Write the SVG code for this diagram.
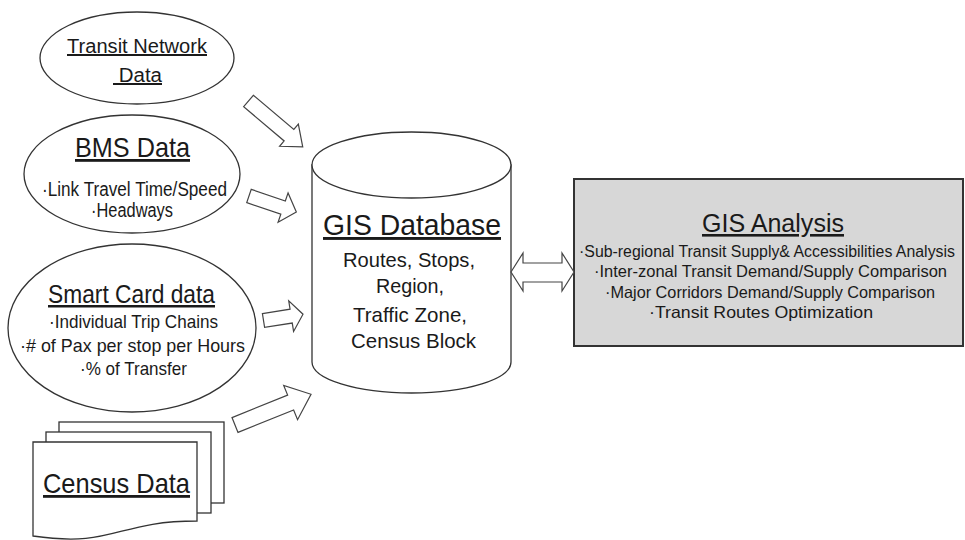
<svg xmlns="http://www.w3.org/2000/svg" width="965" height="540" viewBox="0 0 965 540">
  <style>
    text { font-family: "Liberation Sans", Arial, sans-serif; fill: #1a1a1a; }
    .title { text-decoration: underline; }
    .shape { fill: #ffffff; stroke: #333333; stroke-width: 1.3; }
    .box { fill: #d7d7d7; stroke: #333333; stroke-width: 2; }
    .arrow { fill: #ffffff; stroke: #444444; stroke-width: 1.2; stroke-linejoin: miter; }
  </style>
  <rect width="965" height="540" fill="#ffffff"/>

  <g id="transit-network">
    <ellipse class="shape" cx="137" cy="58" rx="97" ry="46"/>
    <text class="title" x="67" y="53" font-size="20" textLength="140" lengthAdjust="spacingAndGlyphs">Transit Network</text>
    <text class="title" x="113" y="82" font-size="20" textLength="49" lengthAdjust="spacingAndGlyphs" style="white-space:pre"> Data</text>
  </g>

  <g id="bms">
    <ellipse class="shape" cx="132" cy="174" rx="108" ry="59"/>
    <text class="title" x="75" y="157" font-size="28" textLength="115" lengthAdjust="spacingAndGlyphs">BMS Data</text>
    <text x="42" y="196" font-size="20" textLength="185" lengthAdjust="spacingAndGlyphs">·Link Travel Time/Speed</text>
    <text x="91" y="217" font-size="20" textLength="82" lengthAdjust="spacingAndGlyphs">·Headways</text>
  </g>

  <g id="smart-card">
    <ellipse class="shape" cx="132" cy="328" rx="124" ry="84"/>
    <text class="title" x="48" y="303" font-size="25" textLength="167" lengthAdjust="spacingAndGlyphs">Smart Card data</text>
    <text x="49" y="328" font-size="19" textLength="169" lengthAdjust="spacingAndGlyphs">·Individual Trip Chains</text>
    <text x="20" y="352" font-size="19" textLength="225" lengthAdjust="spacingAndGlyphs">·# of Pax per stop per Hours</text>
    <text x="80" y="375" font-size="19" textLength="107" lengthAdjust="spacingAndGlyphs">·% of Transfer</text>
  </g>

  <g id="census">
    <rect class="shape" x="59" y="422" width="165" height="81"/>
    <rect class="shape" x="46" y="432" width="165" height="81"/>
    <path class="shape" d="M33,442 L197,442 L197,521 C115,521 115,548 33,536 Z"/>
    <text class="title" x="43" y="493" font-size="28" textLength="147" lengthAdjust="spacingAndGlyphs">Census Data</text>
  </g>

  <g id="gis-database">
    <path class="shape" d="M312,165 L312,362 A99.5,31 0 0 0 511,362 L511,165 Z"/>
    <ellipse class="shape" cx="411.5" cy="165" rx="99.5" ry="33"/>
    <text class="title" x="323" y="235" font-size="29" textLength="178" lengthAdjust="spacingAndGlyphs">GIS Database</text>
    <text x="343" y="267" font-size="21" textLength="132" lengthAdjust="spacingAndGlyphs">Routes, Stops,</text>
    <text x="376" y="293" font-size="21" textLength="68" lengthAdjust="spacingAndGlyphs">Region,</text>
    <text x="353" y="322" font-size="21" textLength="114" lengthAdjust="spacingAndGlyphs">Traffic Zone,</text>
    <text x="351" y="348" font-size="21" textLength="125" lengthAdjust="spacingAndGlyphs">Census Block</text>
  </g>

  <g id="gis-analysis">
    <rect class="box" x="574" y="179" width="389" height="167"/>
    <text class="title" x="702" y="232" font-size="26" textLength="142" lengthAdjust="spacingAndGlyphs">GIS Analysis</text>
    <text x="579" y="257" font-size="16" textLength="376" lengthAdjust="spacingAndGlyphs">·Sub-regional Transit Supply&amp; Accessibilities Analysis</text>
    <text x="594" y="277" font-size="16.5" textLength="353" lengthAdjust="spacingAndGlyphs">·Inter-zonal Transit Demand/Supply Comparison</text>
    <text x="605" y="298" font-size="16.5" textLength="330" lengthAdjust="spacingAndGlyphs">·Major Corridors Demand/Supply Comparison</text>
    <text x="649" y="318" font-size="16.5" textLength="224" lengthAdjust="spacingAndGlyphs">·Transit Routes Optimization</text>
  </g>

  <g id="connectors">
    <path class="arrow" transform="translate(248.5,101) rotate(40.2)" d="M0,-7.5 L53,-7.5 L53,-14.5 L71,0 L53,14.5 L53,7.5 L0,7.5 Z"/>
    <path class="arrow" transform="translate(249,196) rotate(18.8)" d="M0,-7 L36,-7 L36,-15.5 L50,0 L36,15.5 L36,7 L0,7 Z"/>
    <path class="arrow" transform="translate(263.5,320.5) rotate(-9)" d="M0,-7 L28,-7 L28,-15.5 L40,0 L28,15.5 L28,7 L0,7 Z"/>
    <path class="arrow" transform="translate(235,425) rotate(-22)" d="M0,-8 L60,-8 L60,-18.5 L82,0 L60,18.5 L60,8 L0,8 Z"/>
    <path class="arrow" d="M511,272 L523,253 L523,263 L562,263 L562,253 L574,272 L562,291 L562,282 L523,282 L523,291 Z"/>
  </g>
</svg>
